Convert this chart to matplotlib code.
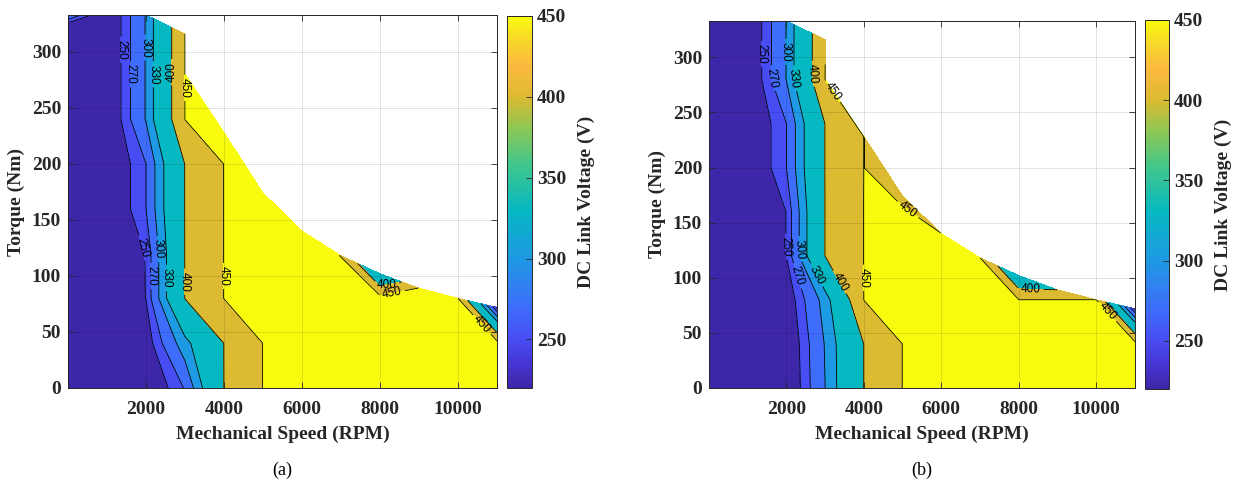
import numpy as np
import matplotlib
matplotlib.use("Agg")
import matplotlib.pyplot as plt
from matplotlib.colors import LinearSegmentedColormap, Normalize
from matplotlib.cm import ScalarMappable

# ---------------- data ----------------
speed_rpm = [0, 1000, 2000, 3000, 4000, 5000, 6000, 7000, 8000, 9000, 10000, 11000]
torque_step_rows = [0, 40, 80, 120, 160, 200, 240, 280, 320]
torque_max = [333, 333, 333, 316, 228, 174, 140, 118, 102, 89, 80, 72]
contour_levels = [250, 270, 300, 330, 400, 450]
colorbar_ticks = [250, 300, 350, 400, 450]
x_ticks = [2000, 4000, 6000, 8000, 10000]
y_ticks = [0, 50, 100, 150, 200, 250, 300]

# DC link voltage per speed column, at the column's torque points (rows, then torque max)
voltage_a = [
    [210, 210, 210, 210, 210, 210, 210, 210, 210, 295],
    [215, 217, 220, 220, 220, 220, 221, 221, 221, 221],
    [221, 236, 250.5, 251, 270, 270, 302, 302, 302, 302],
    [272, 318, 401, 401, 401, 401, 450.5, 450.5, 450.5],
    [400.5, 400.5, 450.5, 450.5, 450.5, 450.5, 480],
    [450.5, 450.5, 480, 480, 480, 480],
    [480, 480, 480, 480, 480],
    [480, 480, 480, 449],
    [480, 480, 465, 335],
    [480, 480, 470, 452],
    [480, 470, 450.5],
    [480, 463.7, 245],
]
voltage_b = [
    [210, 210, 210, 210, 210, 210, 210, 210, 210, 210],
    [215, 217, 220, 220, 220, 220, 220, 221, 221, 221],
    [222, 224, 232, 250.5, 250.5, 270, 270, 301, 301, 301],
    [300, 302, 312.7, 401, 401, 401, 401, 450.3, 449.5],
    [400.5, 400.5, 450.5, 450.5, 450.5, 450.2, 450.3],
    [450.5, 450.5, 470, 470, 460, 430],
    [470, 470, 470, 470, 450.5],
    [480, 480, 470, 450.5],
    [480, 470, 450.5, 339.5],
    [480, 470, 450.5, 400.5],
    [480, 470, 450.5],
    [480, 463.7, 245],
]

# contour label placement: (level, speed, torque)
labels_a = [(250, 1360, 302), (270, 1600, 280), (300, 1990, 304), (330, 2190, 280),
            (400, 2660, 282), (450, 3000, 268),
            (250, 1985, 126), (270, 2110, 100), (300, 2320, 124), (330, 2520, 98),
            (400, 3000, 95), (450, 4000, 100),
            (400, 8150, 94), (450, 8300, 86), (450, 10600, 56)]
labels_b = [(250, 1370, 303), (270, 1620, 281), (300, 2000, 305), (330, 2200, 281),
            (400, 2660, 285), (450, 3150, 268),
            (250, 2000, 128), (270, 2130, 100), (300, 2330, 126), (330, 2530, 98),
            (400, 3320, 95), (450, 4000, 100),
            (450, 5100, 160), (400, 8300, 89), (450, 10250, 68)]

# ---------------- style ----------------
parula = LinearSegmentedColormap.from_list("parula", [
    (0.00, (0.243, 0.150, 0.660)),
    (0.07, (0.275, 0.215, 0.840)),
    (0.13, (0.283, 0.300, 0.955)),
    (0.217, (0.245, 0.430, 0.985)),
    (0.348, (0.120, 0.600, 0.890)),
    (0.478, (0.020, 0.720, 0.760)),
    (0.60, (0.250, 0.780, 0.550)),
    (0.70, (0.560, 0.780, 0.330)),
    (0.783, (0.860, 0.730, 0.190)),
    (0.87, (0.990, 0.730, 0.250)),
    (0.93, (0.970, 0.830, 0.170)),
    (1.00, (0.976, 0.983, 0.054)),
])
norm = Normalize(220, 450)
SERIF = "Liberation Serif"
SANS = "Liberation Sans"


def build_grid(voltage_cols):
    nrow = max(len(c) for c in voltage_cols)
    ncol = len(speed_rpm)
    X = np.zeros((nrow, ncol))
    Y = np.zeros((nrow, ncol))
    Z = np.ma.masked_all((nrow, ncol))
    for j, (s, tmax, col) in enumerate(zip(speed_rpm, torque_max, voltage_cols)):
        pts = [t for t in torque_step_rows if t < tmax] + [tmax]
        for k in range(nrow):
            X[k, j] = s
            Y[k, j] = pts[min(k, len(pts) - 1)]
            if k < len(col):
                Z[k, j] = col[k]
    return X, Y, Z


def draw(ax, cax, voltage_cols, labels):
    X, Y, Z = build_grid(voltage_cols)
    fill_levels = [150] + contour_levels + [600]
    band_colors = [parula(norm(v)) for v in [220] + contour_levels]
    ax.contourf(X, Y, Z, levels=fill_levels, colors=band_colors, corner_mask=True, zorder=1)
    ax.set_xlim(0, 11000)
    ax.set_ylim(0, 333)
    for lv in contour_levels:
        cs = ax.contour(X, Y, Z, levels=[lv], colors="k", linewidths=0.6,
                        corner_mask=True, zorder=2)
        pos = [(x, y) for l, x, y in labels if l == lv]
        if pos:
            txts = cs.clabel(manual=pos, inline=True, inline_spacing=2,
                             fontsize=8.5, fmt=lambda v: f"{v:.0f}")
            for t in txts:
                t.set_fontfamily(SANS)
    ax.set_xticks(x_ticks)
    ax.set_yticks(y_ticks)
    ax.grid(True, color="k", alpha=0.13, linewidth=0.6)
    ax.set_axisbelow(False)
    ax.tick_params(direction="in", top=True, right=True, length=4, width=0.6,
                   labelsize=14, colors="0.15", pad=5)
    ax.tick_params(axis="x", pad=9)
    for lab in ax.get_xticklabels() + ax.get_yticklabels():
        lab.set_fontfamily(SERIF)
        lab.set_fontweight("bold")
        lab.set_color("0.15")
    for sp in ax.spines.values():
        sp.set_color("0.15")
        sp.set_linewidth(0.7)
    ax.set_xlabel("Mechanical Speed (RPM)", fontsize=14, fontweight="bold", family=SERIF,
                  color="0.15", labelpad=6)
    ax.set_ylabel("Torque (Nm)", fontsize=14, fontweight="bold", family=SERIF,
                  color="0.15", labelpad=5)

    cb = plt.colorbar(ScalarMappable(norm=norm, cmap=parula), cax=cax)
    cb.set_ticks(colorbar_ticks)
    cb.ax.tick_params(direction="in", length=4, width=0.6, labelsize=14, colors="0.15")
    for lab in cb.ax.get_yticklabels():
        lab.set_fontfamily(SERIF)
        lab.set_fontweight("bold")
    cb.outline.set_edgecolor("0.15")
    cb.outline.set_linewidth(0.7)
    cb.set_label("DC Link Voltage (V)", fontsize=14, fontweight="bold", family=SERIF,
                 color="0.15", labelpad=8)


W, H = 1242, 483
fig = plt.figure(figsize=(W / 100, H / 100), dpi=100)
ax_a = fig.add_axes([68 / W, (H - 388) / H, 429 / W, (388 - 15) / H])
cax_a = fig.add_axes([507 / W, (H - 388) / H, 25 / W, (388 - 16) / H])
ax_b = fig.add_axes([709 / W, (H - 388) / H, 426 / W, (388 - 21) / H])
cax_b = fig.add_axes([1145 / W, (H - 389) / H, 24 / W, (389 - 20) / H])

draw(ax_a, cax_a, voltage_a, labels_a)
draw(ax_b, cax_b, voltage_b, labels_b)

fig.text(282 / W, 1 - 470 / H, "(a)", ha="center", va="center", fontsize=13, family=SERIF)
fig.text(922 / W, 1 - 470 / H, "(b)", ha="center", va="center", fontsize=13, family=SERIF)

fig.savefig("out.png", dpi=100)
